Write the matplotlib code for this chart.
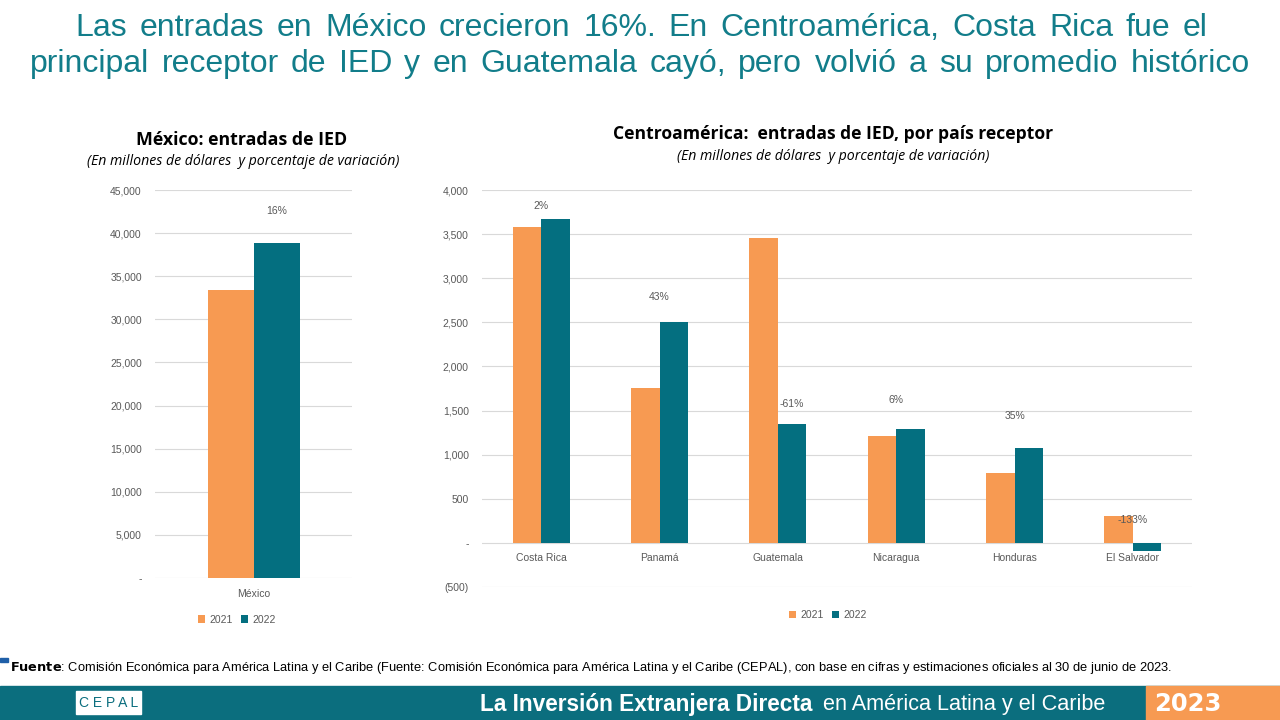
import matplotlib.pyplot as plt
import numpy as np
from matplotlib.patches import Rectangle
from matplotlib.ticker import FuncFormatter

# datos (millones de dólares)
mexico_2021 = 33400
mexico_2022 = 38900
mexico_var = "16%"

paises = ['Costa Rica', 'Panamá', 'Guatemala', 'Nicaragua', 'Honduras', 'El Salvador']
ca_2021 = [3580, 1760, 3460, 1215, 795, 305]
ca_2022 = [3670, 2505, 1350, 1295, 1075, -90]
ca_var = ['2%', '43%', '-61%', '6%', '35%', '-133%']
# serie oculta donde Excel dejó las etiquetas
ca_var_y = [3820, 2790, 1575, 1620, 1440, 260]

titulo = ['Las entradas en México crecieron 16%. En Centroamérica, Costa Rica fue el',
          'principal receptor de IED y en Guatemala cayó, pero volvió a su promedio histórico']

naranja = '#F79A52'
verde = '#046F80'
gris = '#595959'
titulo_color = '#127D8A'


def fmt_miles(v, pos):
    if v == 0:
        return '-'
    if v < 0:
        return '({:,.0f})'.format(-v)
    return '{:,.0f}'.format(v)


plt.rcParams['font.family'] = ['Liberation Sans', 'DejaVu Sans']
fuente_titulos = ['Open Sans', 'DejaVu Sans']

fig = plt.figure(figsize=(12.8, 7.2), dpi=100)
fig.patch.set_facecolor('white')
renderer = fig.canvas.get_renderer()

# título justificado (como en la diapositiva)
lineas = [(titulo[0], 75, 1208, 36), (titulo[1], 30, 1250, 72)]
for texto, x0, x1, base in lineas:
    palabras = texto.split(' ')
    objs = [fig.text(0, 1 - base / 720, p, ha='left', va='baseline', fontsize=23,
                     color=titulo_color) for p in palabras]
    anchos = [t.get_window_extent(renderer).width for t in objs]
    hueco = (x1 - x0 - sum(anchos)) / (len(palabras) - 1)
    pos = x0
    for t, a in zip(objs, anchos):
        t.set_x(pos / 1280)
        pos += a + hueco

# ---- México ----
ax1 = fig.add_axes([0.1211, 0.1972, 0.1539, 0.5389])
w1 = 0.2335
ax1.bar(-w1 / 2, mexico_2021, w1, color=naranja, label='2021')
ax1.bar(w1 / 2, mexico_2022, w1, color=verde, label='2022')
ax1.set_xlim(-0.5, 0.5)
ax1.set_ylim(0, 45000)
ax1.set_yticks(np.arange(0, 45001, 5000))
ax1.yaxis.set_major_formatter(FuncFormatter(fmt_miles))
ax1.set_xticks([0])
ax1.set_xticklabels(['México'])
ax1.annotate(mexico_var, (w1 / 2, 42600), ha='center', va='center', fontsize=7.5, color=gris)
ax1.legend(loc='upper center', bbox_to_anchor=(0.416, -0.07), ncol=2, frameon=False,
           fontsize=7.5, handlelength=0.7, handleheight=0.7, columnspacing=0.8,
           handletextpad=0.4, labelcolor=gris)
fig.text(0.189, 0.805, 'México: entradas de IED', ha='center', va='center',
         fontsize=12.8, fontweight='bold', family=fuente_titulos)
fig.text(0.190, 0.776, '(En millones de dólares  y porcentaje de variación)', ha='center',
         va='center', fontsize=10.2, style='italic', family=fuente_titulos)

# ---- Centroamérica ----
ax2 = fig.add_axes([0.3766, 0.1847, 0.5547, 0.5514])
x = np.arange(len(paises))
w2 = 0.24
ax2.bar(x - w2 / 2, ca_2021, w2, color=naranja, label='2021')
ax2.bar(x + w2 / 2, ca_2022, w2, color=verde, label='2022')
ax2.set_xlim(-0.5, len(paises) - 0.5)
ax2.set_ylim(-500, 4000)
ax2.set_yticks(np.arange(-500, 4001, 500))
ax2.yaxis.set_major_formatter(FuncFormatter(fmt_miles))
ax2.set_xticks([])
for i, p in enumerate(paises):
    ax2.annotate(p, (x[i], 0), xytext=(0, -7), textcoords='offset points',
                 ha='center', va='top', fontsize=7.5, color=gris)
for i, t in enumerate(ca_var):
    dx = w2 / 2 if t == '-61%' else 0
    ax2.annotate(t, (x[i] + dx, ca_var_y[i]), ha='center', va='center', fontsize=7.5, color=gris)
ax2.legend(loc='upper center', bbox_to_anchor=(0.487, -0.035), ncol=2, frameon=False,
           fontsize=7.5, handlelength=0.7, handleheight=0.7, columnspacing=0.8,
           handletextpad=0.4, labelcolor=gris)
fig.text(0.651, 0.814, 'Centroamérica:  entradas de IED, por país receptor', ha='center',
         va='center', fontsize=12.6, fontweight='bold', family=fuente_titulos)
fig.text(0.651, 0.782, '(En millones de dólares  y porcentaje de variación)', ha='center',
         va='center', fontsize=10.2, style='italic', family=fuente_titulos)

for ax in (ax1, ax2):
    for s in ax.spines.values():
        s.set_visible(False)
    ax.tick_params(length=0, labelsize=7.5, labelcolor=gris, pad=9.5)
    ax.yaxis.grid(True, color='#D9D9D9', linewidth=0.8)
    ax.set_axisbelow(True)
ax1.tick_params(axis='x', pad=8)

# ---- fuente y pie ----
fig.patches.append(Rectangle((0, 0.081), 0.0065, 0.0055, transform=fig.transFigure,
                             color='#1F5FA8', zorder=5))
fig.text(0.008, 0.072, r'$\bf{Fuente}$: Comisión Económica para América Latina y el Caribe '
         '(Fuente: Comisión Económica para América Latina y el Caribe (CEPAL), con base en cifras '
         'y estimaciones oficiales al 30 de junio de 2023.', ha='left', va='center', fontsize=9.3)

fig.patches.append(Rectangle((0, 0), 1, 0.047, transform=fig.transFigure,
                             color='#0B6E7E', zorder=1))
fig.patches.append(Rectangle((0.895, 0), 0.105, 0.047, transform=fig.transFigure,
                             color='#F79A52', zorder=2))
fig.patches.append(Rectangle((0.059, 0.008), 0.051, 0.032, transform=fig.transFigure,
                             color='white', zorder=3))
fig.text(0.0845, 0.024, 'C E P A L', ha='center', va='center', fontsize=10,
         color='#0B6E7E', zorder=4)
fig.text(0.375, 0.022, 'La Inversión Extranjera Directa', ha='left', va='center',
         fontsize=16.3, color='white', fontweight='bold', zorder=4)
fig.text(0.643, 0.022, 'en América Latina y el Caribe', ha='left', va='center',
         fontsize=15.6, color='white', zorder=4)
fig.text(0.902, 1 - 711 / 720, '2023', ha='left', va='baseline', fontsize=17.5,
         color='white', fontweight='bold', family=['DejaVu Sans'], zorder=4)

fig.savefig('out.png', dpi=100)
